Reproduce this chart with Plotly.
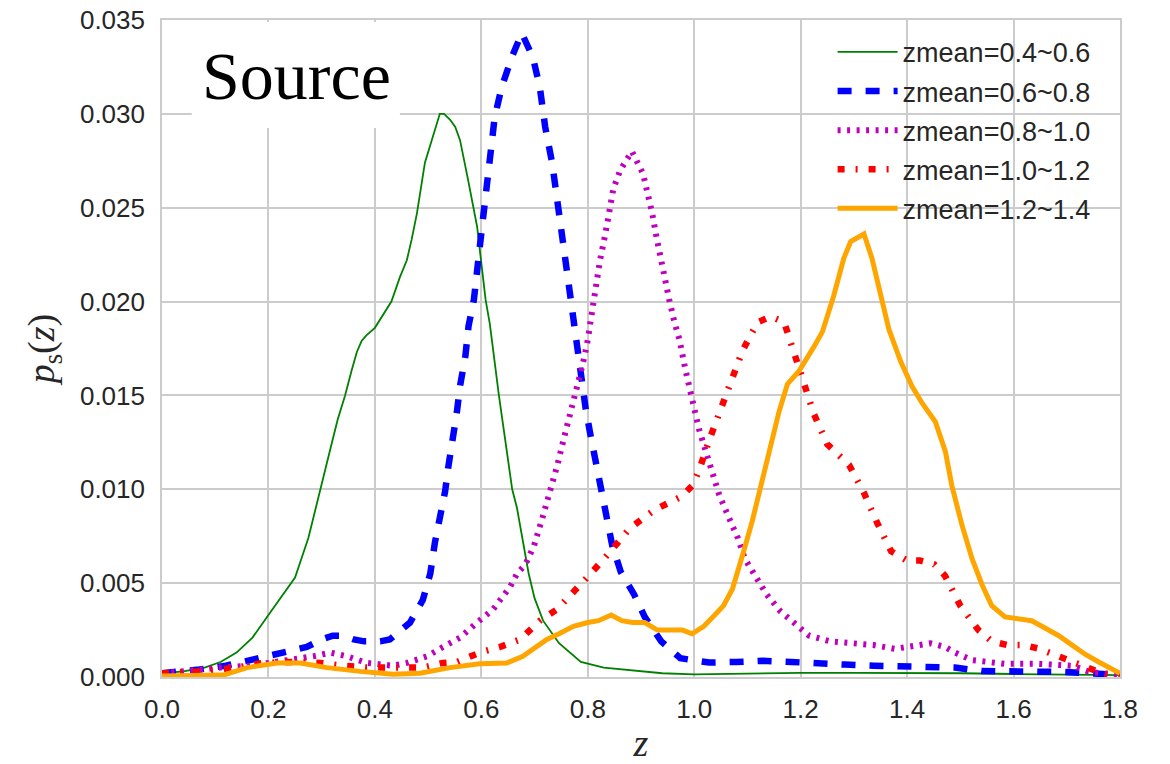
import plotly.graph_objects as go

# ---------------- data ----------------
z_g = [0.00, 0.04, 0.08, 0.11, 0.14, 0.17, 0.20, 0.22, 0.25, 0.275, 0.297, 0.315, 0.33, 0.344,
       0.356, 0.366, 0.375, 0.384, 0.40, 0.416, 0.431, 0.447, 0.46, 0.469, 0.479, 0.494, 0.507,
       0.522, 0.530, 0.541, 0.551, 0.56, 0.575, 0.592, 0.608, 0.616, 0.633, 0.658, 0.667, 0.689,
       0.700, 0.716, 0.746, 0.787, 0.83, 0.88, 0.94, 1.00, 1.10, 1.20, 1.30, 1.40, 1.50, 1.60,
       1.70, 1.80]
p_g = [0.0002, 0.0003, 0.0005, 0.0008, 0.0013, 0.0021, 0.0033, 0.0041, 0.0053, 0.0074, 0.0100,
       0.0120, 0.0137, 0.0150, 0.0163, 0.0173, 0.0179, 0.0182, 0.0186, 0.0193, 0.0200, 0.0213,
       0.0222, 0.0233, 0.0247, 0.0274, 0.0286, 0.0300, 0.0300, 0.0297, 0.0293, 0.0286, 0.0265,
       0.0240, 0.0201, 0.0188, 0.0150, 0.0100, 0.0090, 0.0055, 0.0042, 0.0030, 0.0018, 0.0008,
       0.0005, 0.00035, 0.0002, 0.00014, 0.0002, 0.00022, 0.00022, 0.00022, 0.0002, 0.00016,
       0.00012, 0.0001]

z_b = [0.00, 0.04, 0.07, 0.12, 0.15, 0.18, 0.227, 0.25, 0.272, 0.30, 0.321, 0.34, 0.36, 0.38,
       0.41, 0.428, 0.45, 0.466, 0.49, 0.504, 0.513, 0.522, 0.532, 0.538, 0.547, 0.554, 0.56,
       0.57, 0.576, 0.586, 0.597, 0.607, 0.616, 0.625, 0.638, 0.657, 0.676, 0.697, 0.71, 0.72,
       0.733, 0.748, 0.759, 0.767, 0.774, 0.783, 0.79, 0.796, 0.805, 0.815, 0.824, 0.834, 0.846,
       0.862, 0.887, 0.907, 0.938, 0.974, 1.028, 1.079, 1.129, 1.183, 1.23, 1.283, 1.337, 1.387,
       1.438, 1.49, 1.54, 1.59, 1.644, 1.694, 1.744, 1.80]
p_b = [0.0002, 0.0003, 0.0004, 0.0006, 0.0008, 0.0010, 0.0013, 0.0014, 0.0016, 0.0020, 0.0022,
       0.0022, 0.0020, 0.0019, 0.0019, 0.0020, 0.0025, 0.0029, 0.0041, 0.0055, 0.0072, 0.0084,
       0.0099, 0.0112, 0.0127, 0.0141, 0.0155, 0.0171, 0.0187, 0.0201, 0.0229, 0.0254, 0.0274,
       0.0298, 0.0314, 0.0330, 0.0343, 0.0330, 0.0314, 0.0293, 0.0274, 0.0243, 0.0217, 0.0201,
       0.0185, 0.0171, 0.0157, 0.0143, 0.0129, 0.0114, 0.0099, 0.0085, 0.0070, 0.0056, 0.0044,
       0.0032, 0.0019, 0.0010, 0.00077, 0.0008, 0.00086, 0.0008, 0.0007, 0.00066, 0.0006,
       0.00057, 0.00055, 0.0005, 0.00032, 0.00032, 0.00032, 0.00027, 0.0002, 0.0001]

z_m = [0.00, 0.058, 0.109, 0.165, 0.203, 0.246, 0.284, 0.316, 0.348, 0.385, 0.434, 0.46, 0.498,
       0.528, 0.56, 0.592, 0.622, 0.654, 0.667, 0.683, 0.699, 0.714, 0.73, 0.743, 0.755, 0.768,
       0.777, 0.79, 0.799, 0.805, 0.81, 0.817, 0.823, 0.833, 0.842, 0.848, 0.861, 0.883, 0.904,
       0.911, 0.921, 0.93, 0.94, 0.953, 0.962, 0.972, 0.984, 0.994, 1.003, 1.009, 1.022, 1.047,
       1.068, 1.082, 1.095, 1.115, 1.136, 1.162, 1.189, 1.216, 1.256, 1.297, 1.337, 1.377, 1.417,
       1.444, 1.471, 1.49, 1.522, 1.553, 1.584, 1.647, 1.71, 1.74, 1.785, 1.80]
p_m = [0.0002, 0.0004, 0.0005, 0.0006, 0.00075, 0.0009, 0.0011, 0.0013, 0.0011, 0.00075, 0.0006,
       0.00075, 0.0011, 0.0016, 0.0021, 0.0029, 0.0036, 0.0048, 0.0055, 0.0060, 0.0070, 0.0084,
       0.0099, 0.0113, 0.0127, 0.0141, 0.0153, 0.0166, 0.0178, 0.0190, 0.0198, 0.0210, 0.0222,
       0.0236, 0.0250, 0.0260, 0.0270, 0.0280, 0.0268, 0.0260, 0.0247, 0.0233, 0.0218, 0.0201,
       0.0190, 0.0180, 0.0163, 0.0150, 0.0137, 0.0132, 0.0120, 0.0097, 0.0083, 0.0074, 0.0063,
       0.0053, 0.0044, 0.0035, 0.0028, 0.0022, 0.0019, 0.0018, 0.0017, 0.0015, 0.0017, 0.0018,
       0.0016, 0.0013, 0.0009, 0.0008, 0.0007, 0.0007, 0.0006, 0.0003, 0.0001, 0.00005]

z_r = [0.00, 0.07, 0.14, 0.19, 0.246, 0.297, 0.34, 0.385, 0.434, 0.49, 0.528, 0.554, 0.597,
       0.635, 0.673, 0.71, 0.742, 0.78, 0.802, 0.84, 0.878, 0.925, 0.975, 0.997, 1.009, 1.028,
       1.05, 1.072, 1.091, 1.119, 1.144, 1.169, 1.1875, 1.206, 1.225, 1.25, 1.291, 1.319, 1.33,
       1.344, 1.37, 1.40, 1.424, 1.451, 1.471, 1.50, 1.534, 1.559, 1.589, 1.619, 1.649, 1.676,
       1.706, 1.74, 1.766, 1.80]
p_r = [0.0002, 0.0003, 0.0005, 0.00075, 0.0008, 0.00075, 0.0006, 0.0005, 0.0005, 0.0005,
       0.00075, 0.0008, 0.0013, 0.0016, 0.0020, 0.0030, 0.0036, 0.0047, 0.0054, 0.0066, 0.0079,
       0.0089, 0.0096, 0.0102, 0.0110, 0.0126, 0.0142, 0.0158, 0.0174, 0.0189, 0.0192, 0.0189,
       0.0173, 0.0156, 0.0140, 0.0124, 0.0113, 0.0098, 0.0090, 0.0082, 0.0067, 0.0062, 0.0062,
       0.0060, 0.0054, 0.0038, 0.0025, 0.0019, 0.0017, 0.0017, 0.0015, 0.0012, 0.0008, 0.0004,
       0.0002, 0.0001]

z_o = [0.00, 0.115, 0.16, 0.216, 0.26, 0.31, 0.372, 0.434, 0.485, 0.541, 0.597, 0.648, 0.678,
       0.723, 0.746, 0.773, 0.80, 0.82, 0.844, 0.864, 0.884, 0.907, 0.931, 0.954, 0.978, 0.996,
       1.018, 1.035, 1.055, 1.072, 1.082, 1.095, 1.109, 1.119, 1.1375, 1.159, 1.175, 1.197, 1.225,
       1.241, 1.262, 1.281, 1.294, 1.306, 1.319, 1.334, 1.35, 1.366, 1.388, 1.409, 1.428, 1.453,
       1.472, 1.484, 1.503, 1.522, 1.541, 1.559, 1.584, 1.609, 1.634, 1.66, 1.685, 1.71, 1.735,
       1.76, 1.80]
p_o = [0.00005, 0.0001, 0.0005, 0.00075, 0.00075, 0.0005, 0.0003, 0.00015, 0.0002, 0.0005,
       0.0007, 0.00075, 0.0011, 0.0020, 0.0023, 0.0027, 0.0029, 0.0030, 0.0033, 0.0030, 0.0029,
       0.0029, 0.0025, 0.0025, 0.0025, 0.0023, 0.0027, 0.0032, 0.0038, 0.0047, 0.0056, 0.0069,
       0.0083, 0.0095, 0.0115, 0.0141, 0.0156, 0.0163, 0.0176, 0.0184, 0.0203, 0.0223, 0.0232,
       0.0234, 0.0236, 0.0223, 0.0205, 0.0185, 0.0168, 0.0155, 0.0146, 0.0136, 0.0120, 0.0102,
       0.0081, 0.0063, 0.0049, 0.0038, 0.0032, 0.0031, 0.0030, 0.0026, 0.0022, 0.0017, 0.0012,
       0.0008, 0.0002]

series_names = ["zmean=0.4~0.6", "zmean=0.6~0.8", "zmean=0.8~1.0", "zmean=1.0~1.2", "zmean=1.2~1.4"]
x_ticks = [0.0, 0.2, 0.4, 0.6, 0.8, 1.0, 1.2, 1.4, 1.6, 1.8]
y_ticks = [0.000, 0.005, 0.010, 0.015, 0.020, 0.025, 0.030, 0.035]

# ---------------- styling ----------------
styles = [
    dict(color="#008000", width=1.8, dash="solid"),
    dict(color="#0000ff", width=6.5, dash="14px,14px"),
    dict(color="#bf00bf", width=6, dash="3px,6.5px"),
    dict(color="#ff0000", width=6.5, dash="7px,11px,2px,11px"),
    dict(color="#ffa500", width=5, dash="solid"),
]
data = [(z_g, p_g), (z_b, p_b), (z_m, p_m), (z_r, p_r), (z_o, p_o)]

fig = go.Figure()
for (zz, pp), name, st in zip(data, series_names, styles):
    fig.add_trace(go.Scatter(x=zz, y=pp, mode="lines", name=name, line=st,
                             legendgroup=name))

GRID = "#cccccc"
TICKFONT = dict(family="Liberation Sans, Arial, sans-serif", size=26, color="#262626")

fig.update_layout(
    width=1170, height=764,
    margin=dict(l=162, r=50, t=20, b=87, autoexpand=False),
    paper_bgcolor="white", plot_bgcolor="white",
    showlegend=True,
    legend=dict(x=0.70, y=0.988, xanchor="left", yanchor="top",
                bgcolor="rgba(0,0,0,0)", borderwidth=0,
                font=dict(family="Liberation Sans, Arial, sans-serif", size=27, color="#262626"),
                tracegroupgap=1, itemwidth=60),
)
fig.update_xaxes(range=[0, 1.8], tickvals=x_ticks, ticktext=[f"{v:.1f}" for v in x_ticks],
                 showgrid=True, gridcolor=GRID, gridwidth=1.6, automargin=False,
                 showline=True, linecolor=GRID, linewidth=1.6, mirror=True,
                 zeroline=False, ticks="", tickfont=TICKFONT, ticklabelstandoff=8,
                 title=dict(text="<i>z</i>", font=dict(family="Liberation Serif, serif", size=38,
                                                       color="#262626"), standoff=8))
fig.update_yaxes(range=[0, 0.035], tickvals=y_ticks, ticktext=[f"{v:.3f}" for v in y_ticks],
                 showgrid=True, gridcolor=GRID, gridwidth=1.6, automargin=False,
                 showline=True, linecolor=GRID, linewidth=1.6, mirror=True,
                 zeroline=False, ticks="", tickfont=TICKFONT, ticklabelstandoff=10,
                 title=dict(text="<i>p</i><sub>s</sub>(<i>z</i>)",
                            font=dict(family="Liberation Serif, serif", size=38, color="#262626"),
                            standoff=14))

# white box behind the "Source" label (covers the gridlines)
fig.add_shape(type="rect", xref="x", yref="y", x0=0.056, x1=0.447, y0=0.02925, y1=0.0349,
              fillcolor="white", line=dict(width=0), layer="between")
fig.add_annotation(text="Source", xref="x", yref="y", x=0.252, y=0.0320,
                   xanchor="center", yanchor="middle", showarrow=False,
                   font=dict(family="Liberation Serif, Times New Roman, serif", size=68, color="black"))

fig.write_html("out.html")
